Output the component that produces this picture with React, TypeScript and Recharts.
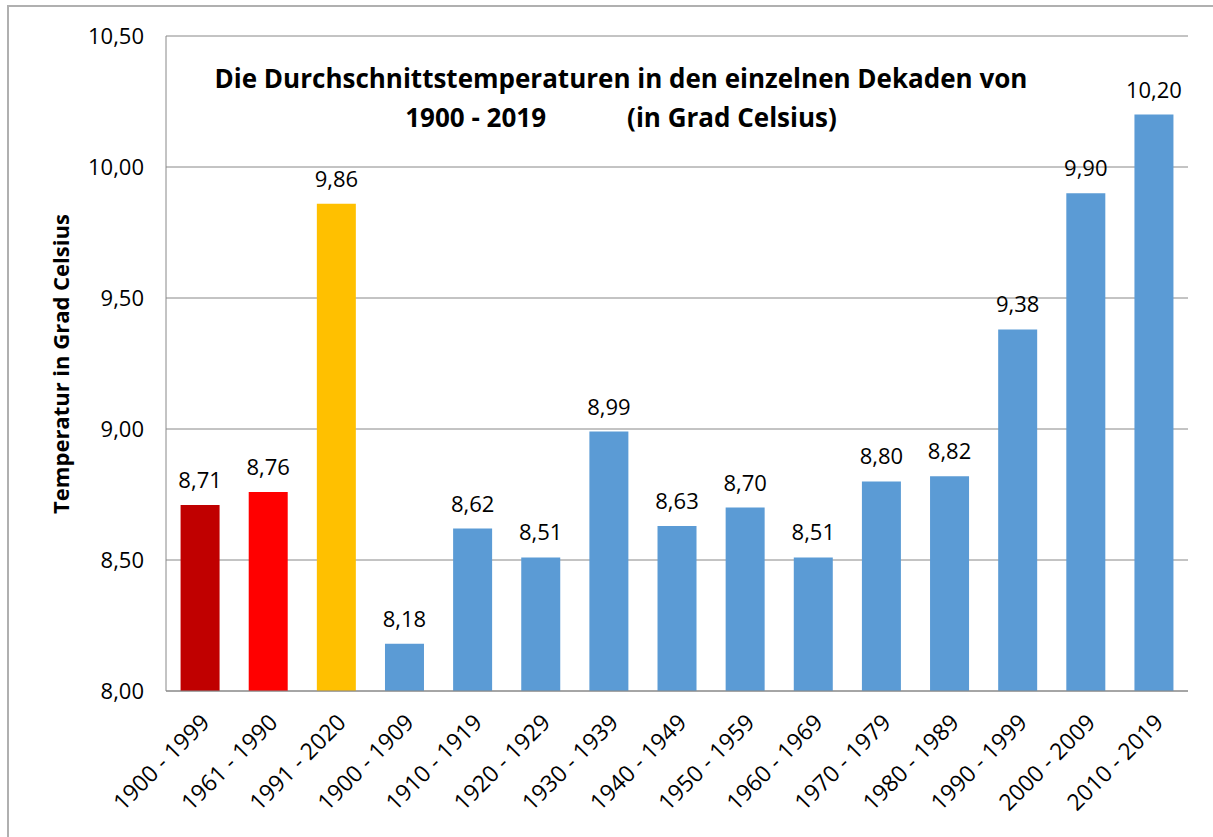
import React from 'react';
import { BarChart, Bar, XAxis, YAxis, CartesianGrid, LabelList, Cell } from 'recharts';

const PERIODS = [
    '1900 - 1999', '1961 - 1990', '1991 - 2020', '1900 - 1909', '1910 - 1919',
    '1920 - 1929', '1930 - 1939', '1940 - 1949', '1950 - 1959', '1960 - 1969',
    '1970 - 1979', '1980 - 1989', '1990 - 1999', '2000 - 2009', '2010 - 2019',
];
const TEMPS = [8.71, 8.76, 9.86, 8.18, 8.62, 8.51, 8.99, 8.63, 8.70, 8.51, 8.80, 8.82, 9.38, 9.90, 10.20];
const BAR_COLORS = ['#C00000', '#FF0000', '#FFC000'];
const DEFAULT_BLUE = '#5B9BD5';
const Y_TICKS = [8, 8.5, 9, 9.5, 10, 10.5];

const FONT = '"Open Sans", sans-serif';
const GRID = '#888888';
const INK = '#000000';

const fmt = (v: number) => v.toFixed(2).replace('.', ',');

const data = PERIODS.map((p, i) => ({ period: p, temp: TEMPS[i] }));

// rotated category label, right end anchored just under the tick
const CatTick = (props: any) => {
    const { x, y, payload } = props;
    return (
        <g transform={`translate(${x + 6},${y + 20})`}>
            <text transform="rotate(-45)" textAnchor="end" fontSize={23} fill={INK} fontFamily={FONT} dy={7}>
                {payload.value}
            </text>
        </g>
    );
};

export default function App() {
    return (
        <div style={{ position: 'absolute', left: 0, top: 0, width: 1213, height: 837, background: '#fff', fontFamily: FONT }}>
            <div style={{ position: 'absolute', left: 7, top: 5, right: -2, bottom: -2, borderLeft: '2px solid #b0b0b0', borderTop: '2px solid #b0b0b0' }} />
            <BarChart width={1213} height={837} data={data} margin={{ top: 36, right: 25, bottom: 6, left: 76 }} barCategoryGap="21.4%">
                <CartesianGrid stroke={GRID} vertical={false} />
                <XAxis dataKey="period" interval={0} tick={<CatTick />} tickLine={false} axisLine={{ stroke: GRID }} height={140} />
                <YAxis domain={[8, 10.5]} ticks={Y_TICKS} tickFormatter={fmt} width={90} tickLine={false}
                    axisLine={{ stroke: GRID }} tick={{ fontSize: 22, fill: INK, fontFamily: FONT }} tickMargin={16} />
                <Bar dataKey="temp" isAnimationActive={false}>
                    {data.map((d, i) => <Cell key={d.period} fill={BAR_COLORS[i] ?? DEFAULT_BLUE} />)}
                    <LabelList dataKey="temp" position="top" offset={17} formatter={(v: any) => fmt(Number(v))}
                        style={{ fontSize: 22, fill: INK, fontFamily: FONT }} />
                </Bar>
            </BarChart>
            <div style={{ position: 'absolute', left: 0, width: 1242, top: 59, textAlign: 'center', fontWeight: 700, fontSize: 26, lineHeight: '39px', color: INK }}>
                <div>Die Durchschnittstemperaturen in den einzelnen Dekaden von</div>
                <div style={{ whiteSpace: 'pre' }}>{'1900 - 2019            (in Grad Celsius)'}</div>
            </div>
            <div style={{ position: 'absolute', left: 60, top: 364, transform: 'translate(-50%, -50%) rotate(-90deg)', whiteSpace: 'nowrap', fontWeight: 700, fontSize: 22, color: INK }}>
                Temperatur in Grad Celsius
            </div>
        </div>
    );
}
